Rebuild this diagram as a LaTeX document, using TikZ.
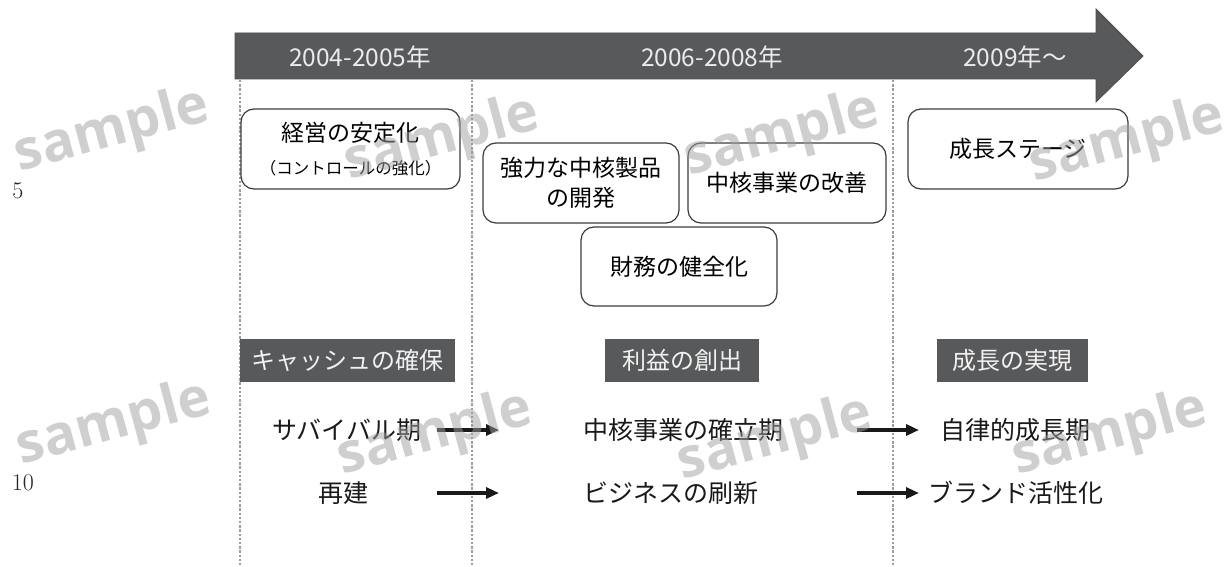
\documentclass[tikz,border=0pt]{standalone}
\usepackage{fontspec}
\newfontfamily\jp{Noto Sans CJK JP}
\newfontfamily\wmfont{Open Sans}
\usetikzlibrary{arrows.meta}
\definecolor{barc}{HTML}{58595B}
\definecolor{dotc}{HTML}{9C9C9C}
\definecolor{wmc}{HTML}{A0A0A0}
\definecolor{edgec}{HTML}{3C3C3C}
\begin{document}
\begin{tikzpicture}[x=1pt,y=-1pt,
  divider/.style={dotc, line width=2.8pt, dash pattern=on 2.4pt off 1.8pt},
  yeartext/.style={text=white!92!black, font=\jp\fontsize{24.5}{28}\selectfont, inner sep=0},
  stagebox/.style={draw=edgec, line width=1.2pt, rounded corners=13pt, fill=white, align=center,
     font=\jp\fontsize{23}{30}\selectfont, inner sep=0},
  darklabel/.style={fill=barc, text=white!95!black, minimum height=43pt, inner sep=0,
     font=\jp\fontsize{24}{28}\selectfont},
  rowtext/.style={font=\jp\fontsize{25}{30}\selectfont, inner sep=0, text=black!90},
  flow/.style={-{Triangle[length=13pt,width=11pt]}, line width=3.2pt, black!90},
  wm/.style={wmc, opacity=0.5, rotate=15, font=\wmfont\bfseries\fontsize{55}{60}\selectfont, inner sep=0},
  linenum/.style={font=\fontsize{24}{28}\selectfont, inner sep=0, text=black!85}
]
\useasboundingbox (0,0) rectangle (1232,567);

% timeline arrow
\path[fill=barc, draw=barc!85!black, line width=0.8pt]
  (235,33) -- (1096,33) -- (1096,9) -- (1143,56) -- (1096,102) -- (1096,79) -- (235,79) -- cycle;

% dividers
\coordinate (d1t) at (240,80);  \coordinate (d1b) at (240,567);
\coordinate (d2t) at (472,80);  \coordinate (d2b) at (472,567);
\coordinate (d3t) at (893,80);  \coordinate (d3b) at (893,567);
\draw[divider] (d1t) -- (d1b);
\draw[divider] (d2t) -- (d2b);
\draw[divider] (d3t) -- (d3b);

% year labels
\node[yeartext] (y1) at (360,57) {2004-2005年};
\node[yeartext] (y2) at (712,57) {2006-2008年};
\node[yeartext] (y3) at (1015,57) {2009年～};

% stage boxes
\node[stagebox, minimum width=219pt, minimum height=80pt] (stab) at (350.5,149)
  {経営の安定化\\[3pt]{\fontsize{16.5}{20}\selectfont （コントロールの強化）}};
\node[stagebox, minimum width=196pt, minimum height=80pt] (prod) at (581,183)
  {強力な中核製品\\の開発};
\node[stagebox, minimum width=198pt, minimum height=80pt] (core) at (787,183)
  {中核事業の改善};
\node[stagebox, minimum width=196pt, minimum height=79pt] (fin) at (679,266.5)
  {財務の健全化};
\node[stagebox, minimum width=220pt, minimum height=80pt] (grow) at (1018,149)
  {成長ステージ};

% dark labels
\node[darklabel, minimum width=215pt] (cash) at (347.5,360.5) {キャッシュの確保};
\node[darklabel, minimum width=154pt] (profit) at (682,360.5) {利益の創出};
\node[darklabel, minimum width=151pt] (real) at (1012.5,360.5) {成長の実現};

% rows
\node[rowtext] (r11) at (347,430) {サバイバル期};
\node[rowtext] (r12) at (683,430) {中核事業の確立期};
\node[rowtext] (r13) at (1015,430) {自律的成長期};
\node[rowtext] (r21) at (343,493) {再建};
\node[rowtext] (r22) at (671,493) {ビジネスの刷新};
\node[rowtext] (r23) at (1016,493) {ブランド活性化};

\coordinate (a11) at (437,430); \coordinate (a12) at (499,430);
\coordinate (a13) at (857,430); \coordinate (a14) at (919,430);
\coordinate (a21) at (437,493); \coordinate (a22) at (499,493);
\coordinate (a23) at (857,493); \coordinate (a24) at (919,493);
\draw[flow] (a11) -- (a12);
\draw[flow] (a13) -- (a14);
\draw[flow] (a21) -- (a22);
\draw[flow] (a23) -- (a24);

% line numbers
\node[linenum] (n5) at (18,191) {5};
\node[linenum] (n10) at (23,483) {10};

% watermarks
\node[wm] (w1) at (112,132) {sample};
\node[wm] (w2) at (442,140) {sample};
\node[wm] (w3) at (782,136) {sample};
\node[wm] (w4) at (1127,142) {sample};
\node[wm] (w5) at (114,425) {sample};
\node[wm] (w6) at (435,435) {sample};
\node[wm] (w7) at (775,440) {sample};
\node[wm] (w8) at (1110,435) {sample};
\end{tikzpicture}
\end{document}
